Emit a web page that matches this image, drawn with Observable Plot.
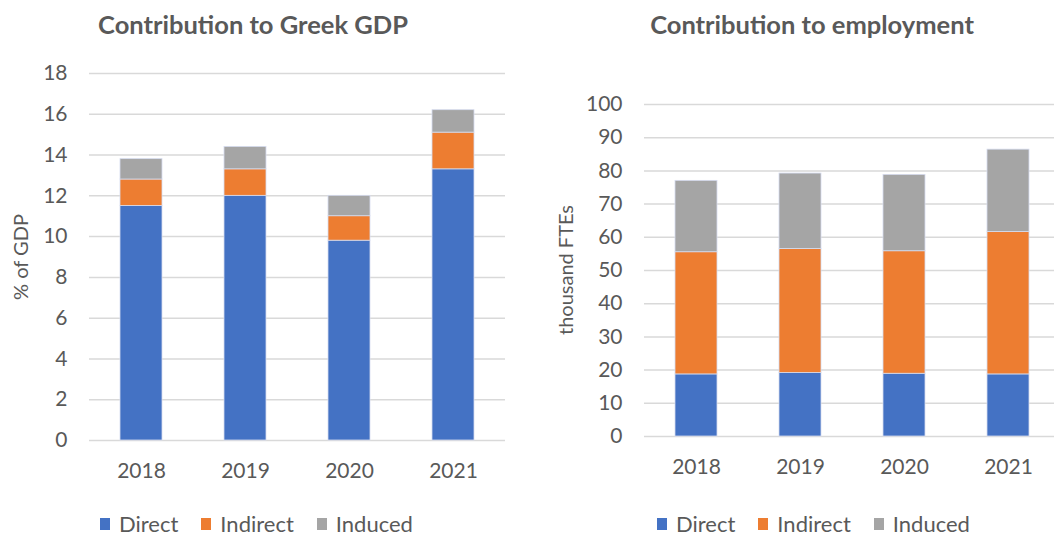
<!DOCTYPE html>
<html>
<head>
<meta charset="utf-8">
<script src="https://cdn.jsdelivr.net/npm/d3@7"></script>
<script src="https://cdn.jsdelivr.net/npm/@observablehq/plot@0.6"></script>
<style>
  html, body { margin: 0; padding: 0; background: #fff; overflow: hidden; }
  body { width: 1054px; height: 536px; position: relative; font-family: Lato, "Open Sans", sans-serif; color: #595959; }
  .title { position: absolute; top: 9px; font-weight: bold; font-size: 25.5px; white-space: nowrap; transform: translateX(-50%); }
  .ylab { position: absolute; font-size: 20px; white-space: nowrap; transform: translate(-50%, -50%) rotate(-90deg); }
  .legend { position: absolute; top: 510px; display: flex; gap: 23px; font-size: 22px; }
  .legend .item { display: flex; align-items: center; }
  .legend .sw { width: 10px; height: 12px; margin-right: 9px; }
  .chart { position: absolute; top: 0; }
</style>
</head>
<body>
<div id="root"></div>
<script>
const years = ["2018", "2019", "2020", "2021"];
const series = ["Direct", "Indirect", "Induced"];
const seriesColors = ["#4472C4", "#ED7D31", "#A5A5A5"];

const gdpDirect = [11.5, 12.0, 9.8, 13.3];
const gdpIndirect = [1.3, 1.3, 1.2, 1.8];
const gdpInduced = [1.0, 1.1, 1.0, 1.1];
const gdpTicks = [0, 2, 4, 6, 8, 10, 12, 14, 16, 18];

const empDirect = [18.7, 19.1, 18.9, 18.7];
const empIndirect = [36.8, 37.4, 36.9, 42.9];
const empInduced = [21.5, 22.7, 23.0, 24.8];
const empTicks = [0, 10, 20, 30, 40, 50, 60, 70, 80, 90, 100];

function toRows(a, b, c) {
  const rows = [];
  years.forEach((y, i) => {
    rows.push({year: y, series: series[0], value: a[i]});
    rows.push({year: y, series: series[1], value: b[i]});
    rows.push({year: y, series: series[2], value: c[i]});
  });
  return rows;
}

function makeChart(rows, ticks, opts) {
  return Plot.plot({
    width: opts.width,
    height: 490,
    marginLeft: opts.marginLeft,
    marginRight: opts.marginRight,
    marginTop: opts.marginTop,
    marginBottom: opts.marginBottom,
    style: {fontFamily: "Lato, 'Open Sans', sans-serif", fontSize: "21px", color: "#595959", background: "transparent"},
    x: {domain: years, paddingInner: 0.6, paddingOuter: 0.3, label: null},
    y: {domain: [ticks[0], ticks[ticks.length - 1]], label: null},
    color: {domain: series, range: seriesColors},
    marks: [
      Plot.ruleY(ticks, {stroke: "#d9d9d9", strokeWidth: 1.5}),
      Plot.barY(rows, {x: "year", y: "value", fill: "series", stroke: "#d6dcef", strokeWidth: 0.8, order: series}),
      Plot.axisY({ticks, tickSize: 0, tickPadding: 22, label: null, fontSize: 21}),
      Plot.axisX({tickSize: 0, tickPadding: opts.xPad, label: null, fontSize: 21})
    ]
  });
}

const root = document.getElementById("root");

const left = makeChart(toRows(gdpDirect, gdpIndirect, gdpInduced), gdpTicks,
  {width: 527, marginLeft: 89, marginRight: 22, marginTop: 73, marginBottom: 50, xPad: 23});
left.classList.add("chart");
left.style.left = "0px";
root.appendChild(left);

const right = makeChart(toRows(empDirect, empIndirect, empInduced), empTicks,
  {width: 520, marginLeft: 104, marginRight: 0, marginTop: 104, marginBottom: 54, xPad: 23});
right.classList.add("chart");
right.style.left = "540px";
root.appendChild(right);

function addDiv(cls, text, styles) {
  const d = document.createElement("div");
  d.className = cls;
  d.textContent = text;
  Object.assign(d.style, styles);
  root.appendChild(d);
  return d;
}

addDiv("title", "Contribution to Greek GDP", {left: "253px"});
addDiv("title", "Contribution to employment", {left: "812px"});
addDiv("ylab", "% of GDP", {left: "20px", top: "257px"});
addDiv("ylab", "thousand FTEs", {left: "565px", top: "270px"});

function addLegend(x) {
  const lg = document.createElement("div");
  lg.className = "legend";
  lg.style.left = x + "px";
  series.forEach((s, i) => {
    const it = document.createElement("div");
    it.className = "item";
    const sw = document.createElement("div");
    sw.className = "sw";
    sw.style.background = seriesColors[i];
    const t = document.createElement("span");
    t.textContent = s;
    it.appendChild(sw);
    it.appendChild(t);
    lg.appendChild(it);
  });
  root.appendChild(lg);
}
addLegend(100);
addLegend(657);
</script>
</body>
</html>
